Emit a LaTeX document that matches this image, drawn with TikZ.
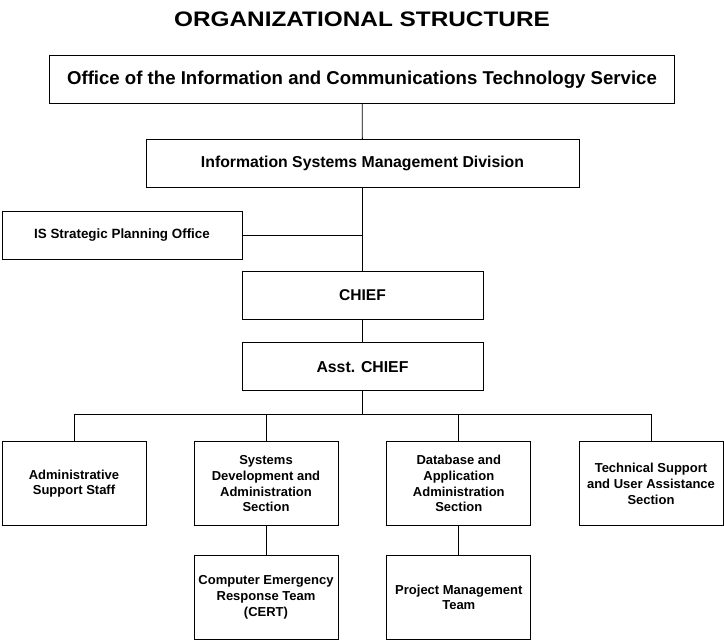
\documentclass[tikz,border=0pt]{standalone}
\usepackage{fontspec}
\setmainfont{Liberation Sans}
\usepackage{tikz}
\usetikzlibrary{positioning}
\tikzset{
    orgbox/.style={draw=black, line width=0.8pt, align=center, inner sep=2pt, font=\bfseries},
    topbox/.style={orgbox, minimum height=48pt},
    unitbox/.style={orgbox, minimum width=144pt, minimum height=84pt, font=\bfseries\fontsize{13}{15.7}\selectfont},
    orgline/.style={draw=black, line width=0.8pt},
}

\begin{document}
\begin{tikzpicture}[x=1pt, y=-1pt]
	\useasboundingbox (0,0) rectangle (724,642);
	\node (title) at (362,19) {\bfseries\fontsize{21}{24}\selectfont\scalebox{1.16}[1]{ORGANIZATIONAL STRUCTURE}};
	\node[topbox, minimum width=625pt, font=\bfseries\fontsize{18.6}{22}\selectfont] (office) at (362,79.3) {Office of the Information and Communications Technology Service};
	\node[topbox, minimum width=433pt, font=\bfseries\fontsize{15.8}{19}\selectfont] (ismd) at (362.5,163.3) {Information Systems Management Division};
	\node[topbox, minimum width=240pt, font=\bfseries\fontsize{13.4}{16}\selectfont] (issp) at (122,235) {IS Strategic Planning Office};
	\node[topbox, minimum width=241pt, font=\bfseries\fontsize{15.6}{19}\selectfont] (chief) at (362.5,295) {CHIEF};
	\node[topbox, minimum width=241pt, font=\bfseries\fontsize{15.8}{19}\selectfont] (asst) at (362.5,366.7) {Asst. CHIEF};
	\node[unitbox] (admin) at (74,483.7) {Administrative\\Support Staff};
	\node[unitbox] (sysdev) at (266,483.7) {Systems\\Development and\\Administration\\Section};
	\node[unitbox] (dbase) at (458.8,483.7) {Database and\\Application\\Administration\\Section};
	\node[unitbox] (techsup) at (651,483.7) {Technical Support\\and User Assistance\\Section};
	\node[unitbox] (cert) at (266,597.3) {Computer Emergency\\Response Team\\(CERT)};
	\node[unitbox] (pmteam) at (458.8,597.3) {Project Management\\Team};
	\coordinate (bus) at (362.5,414.3);
	\draw[orgline] (office) -- (ismd);
	\draw[orgline] (ismd) -- (chief);
	\draw[orgline] (issp.east) -- (issp.east -| chief.north);
	\draw[orgline] (chief) -- (asst);
	\draw[orgline] (asst) -- (bus);
	\draw[orgline] (admin.north) -- (admin.north |- bus) -- (techsup.north |- bus) -- (techsup.north);
	\draw[orgline] (sysdev.north) -- (sysdev.north |- bus);
	\draw[orgline] (dbase.north) -- (dbase.north |- bus);
	\draw[orgline] (sysdev) -- (cert);
	\draw[orgline] (dbase) -- (pmteam);
\end{tikzpicture}
\end{document}
